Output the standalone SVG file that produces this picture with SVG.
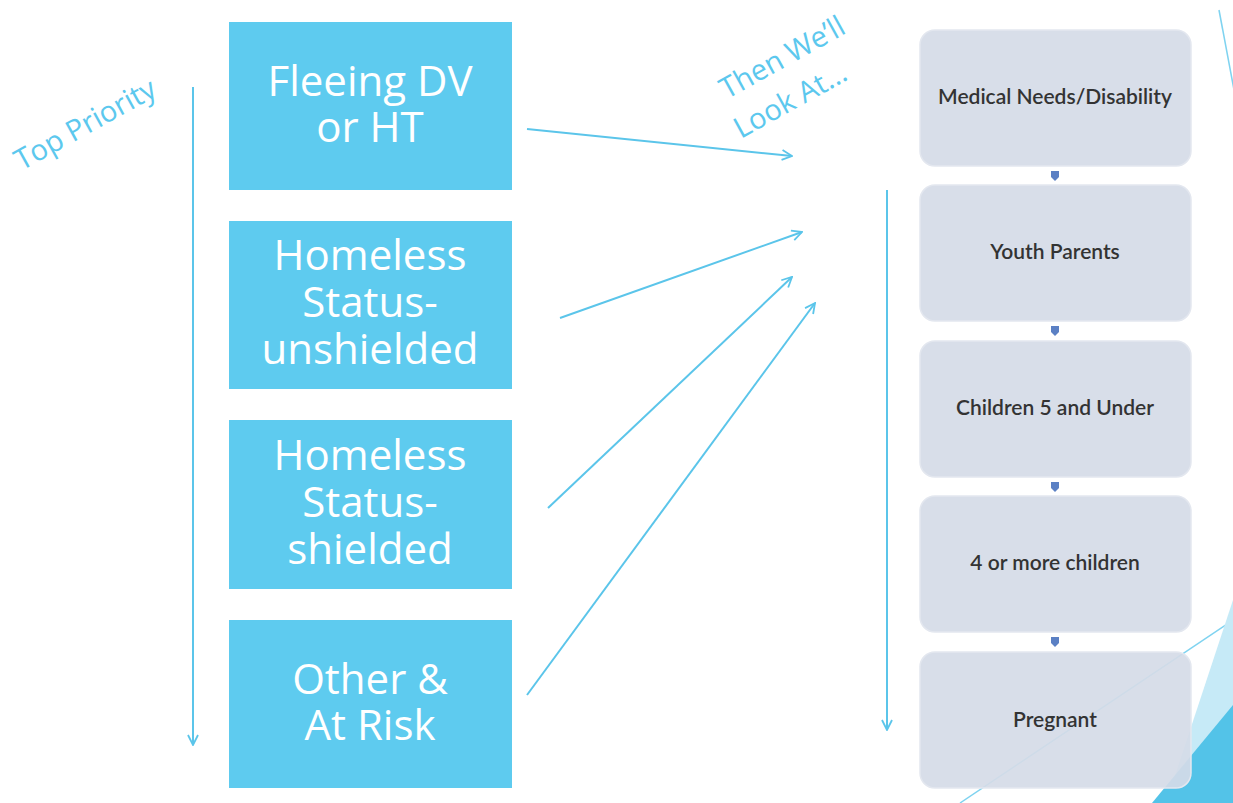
<svg xmlns="http://www.w3.org/2000/svg" width="1233" height="803" viewBox="0 0 1233 803">
  <style>
    .prio { fill: #5ecbef; }
    .prio-label { font-family: "Open Sans", "Liberation Sans", sans-serif; font-size: 42px; fill: #ffffff; text-anchor: middle; }
    .step { fill: #d5dbe7; fill-opacity: 0.92; stroke: #e3e7ef; stroke-width: 1.5; }
    .step-label { font-family: Lato, "Open Sans", "Liberation Sans", sans-serif; font-size: 21px; font-weight: 600; fill: #333333; text-anchor: middle; }
    .note { font-family: "Open Sans", "Liberation Sans", sans-serif; font-size: 29px; fill: #5cc8ee; text-anchor: middle; }
    .link { stroke: #5bc5ea; stroke-width: 2; fill: none; }
    .joint { fill: #5b80c4; }
  </style>
  <defs>
    <marker id="open-head" viewBox="0 0 12 12" refX="11" refY="6" markerWidth="12" markerHeight="12" markerUnits="userSpaceOnUse" orient="auto">
      <path d="M1,1 L11,6 L1,11" fill="none" stroke="#5bc5ea" stroke-width="1.8"/>
    </marker>
  </defs>

  <rect width="1233" height="803" fill="#ffffff"/>

  <!-- corner decoration -->
  <g id="corner-accent">
    <line x1="1219" y1="10" x2="1234" y2="90" stroke="#7fd3f0" stroke-width="1.5"/>
    <line x1="1233" y1="620" x2="960" y2="803" stroke="#7fd3f0" stroke-width="1.5"/>
    <polygon points="1233,600 1166,803 1233,803" fill="#c6eaf7"/>
    <polygon points="1233,705 1152,803 1233,803" fill="#53c3e8"/>
  </g>

  <!-- side annotations -->
  <text class="note" transform="translate(90,133) rotate(-29)">Top Priority</text>
  <text class="note" transform="translate(787,66) rotate(-29)">Then We’ll</text>
  <text class="note" transform="translate(795,109) rotate(-29)">Look At…</text>

  <!-- priority boxes -->
  <g id="fleeing">
    <rect class="prio" x="229" y="22" width="283" height="168"/>
    <text class="prio-label" x="370" y="96">Fleeing DV</text>
    <text class="prio-label" x="370" y="142">or HT</text>
  </g>
  <g id="unshielded">
    <rect class="prio" x="229" y="221" width="283" height="168"/>
    <text class="prio-label" x="370" y="270">Homeless</text>
    <text class="prio-label" x="370" y="317">Status-</text>
    <text class="prio-label" x="370" y="364">unshielded</text>
  </g>
  <g id="shielded">
    <rect class="prio" x="229" y="420" width="283" height="169"/>
    <text class="prio-label" x="370" y="470">Homeless</text>
    <text class="prio-label" x="370" y="517">Status-</text>
    <text class="prio-label" x="370" y="564">shielded</text>
  </g>
  <g id="at-risk">
    <rect class="prio" x="229" y="620" width="283" height="168"/>
    <text class="prio-label" x="370" y="694">Other &amp;</text>
    <text class="prio-label" x="370" y="740">At Risk</text>
  </g>

  <!-- secondary factor boxes -->
  <g id="medical">
    <rect class="step" x="920" y="30" width="271" height="136" rx="15"/>
    <text class="step-label" x="1055" y="104">Medical Needs/Disability</text>
  </g>
  <g id="youth">
    <rect class="step" x="920" y="185" width="271" height="136" rx="15"/>
    <text class="step-label" x="1055" y="259">Youth Parents</text>
  </g>
  <g id="under-five">
    <rect class="step" x="920" y="341" width="271" height="136" rx="15"/>
    <text class="step-label" x="1055" y="415">Children 5 and Under</text>
  </g>
  <g id="four-plus">
    <rect class="step" x="920" y="496" width="271" height="136" rx="15"/>
    <text class="step-label" x="1055" y="570">4 or more children</text>
  </g>
  <g id="pregnant">
    <rect class="step" x="920" y="652" width="271" height="136" rx="15"/>
    <text class="step-label" x="1055" y="727">Pregnant</text>
  </g>

  <!-- connectors -->
  <g id="connectors">
    <line class="link" x1="193" y1="87" x2="193" y2="745" marker-end="url(#open-head)"/>
    <line class="link" x1="887" y1="190" x2="887" y2="730" marker-end="url(#open-head)"/>
    <line class="link" x1="527" y1="129" x2="792" y2="156" marker-end="url(#open-head)"/>
    <line class="link" x1="560" y1="318" x2="802" y2="232" marker-end="url(#open-head)"/>
    <line class="link" x1="548" y1="508" x2="792" y2="277" marker-end="url(#open-head)"/>
    <line class="link" x1="527" y1="695" x2="815" y2="303" marker-end="url(#open-head)"/>
    <path class="joint" d="M1051,171 h8 v6 l-4,4 l-4,-4 z"/>
    <path class="joint" d="M1051,326 h8 v6 l-4,4 l-4,-4 z"/>
    <path class="joint" d="M1051,482 h8 v6 l-4,4 l-4,-4 z"/>
    <path class="joint" d="M1051,637 h8 v6 l-4,4 l-4,-4 z"/>
  </g>
</svg>
